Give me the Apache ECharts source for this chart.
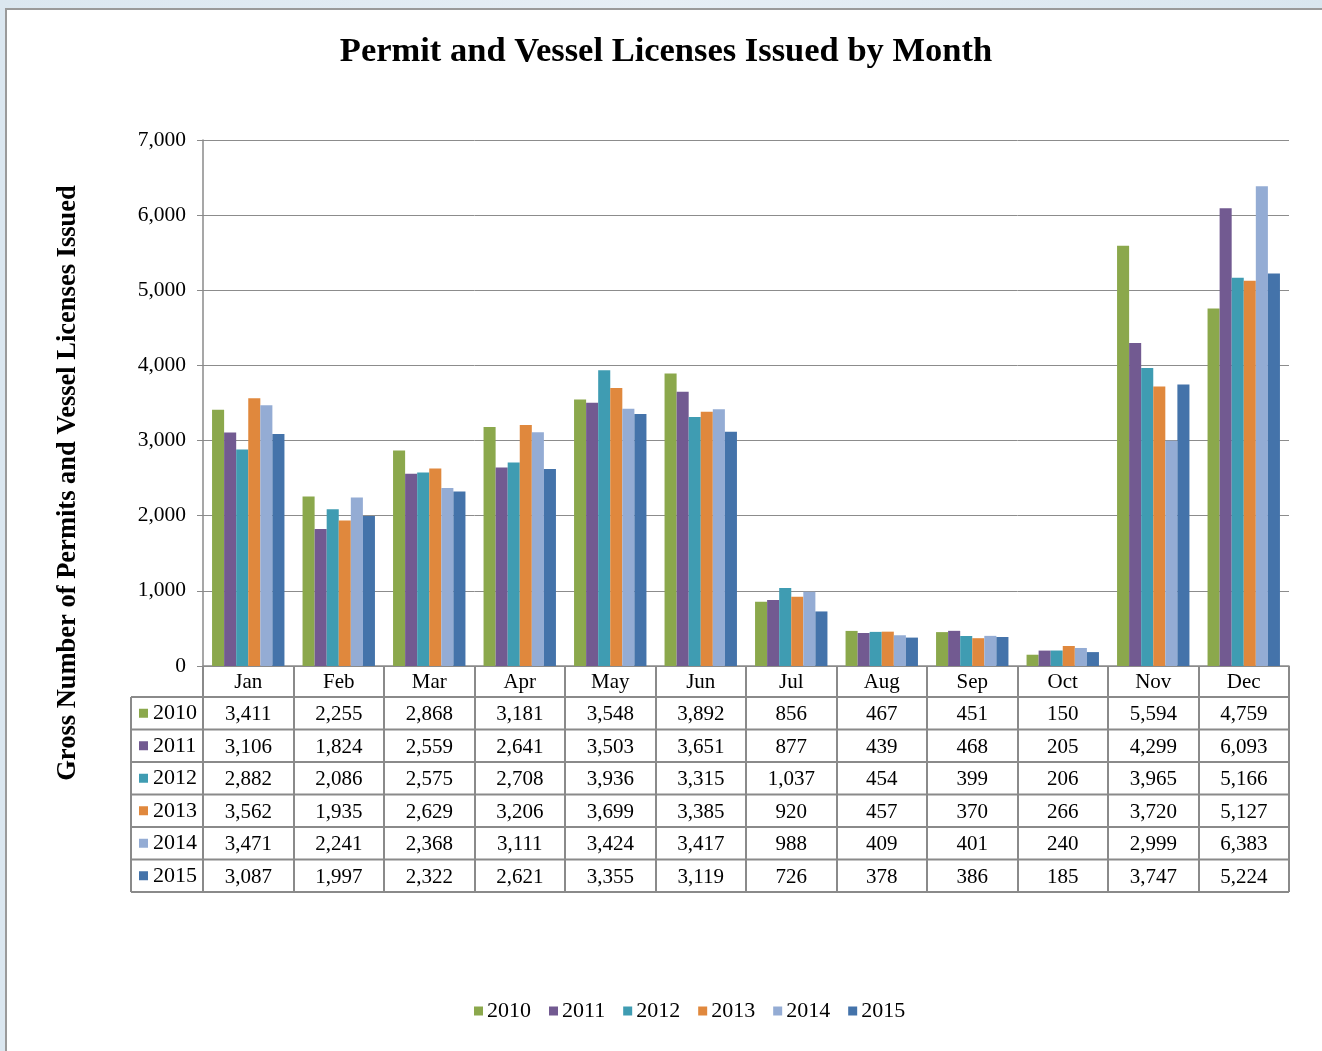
<!DOCTYPE html>
<html><head><meta charset="utf-8">
<script src="https://cdn.jsdelivr.net/npm/echarts@6/dist/echarts.min.js"></script>
<style>
html,body{margin:0;padding:0;width:1322px;height:1051px;overflow:hidden;background:linear-gradient(90deg,#dbe7f0,#e6eef5 50%,#d9e6ef);}
#panel{position:absolute;left:5px;top:8px;width:1330px;height:1060px;background:#fff;border-left:2px solid #9a9a9a;border-top:2px solid #9a9a9a;}
#chart{position:absolute;left:0;top:0;width:1322px;height:1051px;}
</style></head>
<body><div id="panel"></div><div id="chart"></div>
<script>
const months = ['Jan','Feb','Mar','Apr','May','Jun','Jul','Aug','Sep','Oct','Nov','Dec'];
const years = ['2010','2011','2012','2013','2014','2015'];
const v2010 = [3411,2255,2868,3181,3548,3892,856,467,451,150,5594,4759];
const v2011 = [3106,1824,2559,2641,3503,3651,877,439,468,205,4299,6093];
const v2012 = [2882,2086,2575,2708,3936,3315,1037,454,399,206,3965,5166];
const v2013 = [3562,1935,2629,3206,3699,3385,920,457,370,266,3720,5127];
const v2014 = [3471,2241,2368,3111,3424,3417,988,409,401,240,2999,6383];
const v2015 = [3087,1997,2322,2621,3355,3119,726,378,386,185,3747,5224];
const yTicks = [0,1000,2000,3000,4000,5000,6000,7000];
const seriesValues = [v2010,v2011,v2012,v2013,v2014,v2015];
const colors = ['#8BA84C','#725A91','#3F9CB2','#E0883D','#94ACD4','#4473AA'];

const FONT = "'Liberation Serif','Times New Roman',serif";
const fmt = n => n.toLocaleString('en-US');
const GRID = {left:203, right:33, top:140, bottom:385};
const ROW_H = 32.5;
const HEADER_H = 31;
const TABLE_LEFT = 131;

const chart = echarts.init(document.getElementById('chart'), null, {renderer:'canvas'});
const option = {
  backgroundColor:'transparent',
  animation:false,
  title:{text:'Permit and Vessel Licenses Issued by Month', left:661, textAlign:'center', top:30,
    textStyle:{fontFamily:FONT, fontWeight:'bold', fontSize:34.5, color:'#000'}},
  legend:{data:years, left:474, top:1000, padding:0, itemWidth:9, itemHeight:9, itemGap:18, icon:'rect',
    textStyle:{fontFamily:FONT, fontSize:22, color:'#000', padding:[0,0,0,-1]}},
  grid:GRID,
  xAxis:{type:'category', data:months,
    axisLine:{show:true, lineStyle:{color:'#8a8a8a', width:1.5}},
    axisTick:{show:true, length:HEADER_H + ROW_H*6, lineStyle:{color:'#8a8a8a', width:2}},
    axisLabel:{margin:0, fontFamily:FONT, fontSize:21, color:'#000', lineHeight:ROW_H,
      formatter:(m, i) => [m].concat(seriesValues.map(s => fmt(s[i]))).join('\n')}},
  yAxis:{type:'value', min:0, max:7000, interval:1000,
    axisLine:{show:true, lineStyle:{color:'#8a8a8a', width:1.5}},
    axisTick:{show:true, length:6, lineStyle:{color:'#8a8a8a'}},
    splitLine:{lineStyle:{color:'#8c8c8c', width:1}},
    axisLabel:{margin:17, fontFamily:FONT, fontSize:21.5, color:'#000', formatter:v => fmt(v)}},
  series: years.map((y, k) => ({name:y, type:'bar', data:seriesValues[k], barGap:'0%', barCategoryGap:'20%',
    itemStyle:{color:colors[k]}}))
};
chart.setOption(option);

// Table frame and left column, positioned from the grid
const yBase = chart.convertToPixel({yAxisIndex:0}, yTicks[0]);
const xRightGrid = 1322 - GRID.right;
const gfx = [];
const lineStyle = {stroke:'#8a8a8a', lineWidth:2};
for (let r = 0; r <= 6; r++) {
  const y = yBase + HEADER_H + r*ROW_H;
  gfx.push({type:'line', shape:{x1:TABLE_LEFT, y1:y, x2:xRightGrid, y2:y}, style:lineStyle, silent:true});
}
gfx.push({type:'line', shape:{x1:TABLE_LEFT, y1:yBase+HEADER_H, x2:TABLE_LEFT, y2:yBase+HEADER_H+6*ROW_H}, style:lineStyle});
years.forEach((y, k) => {
  const cy = yBase + HEADER_H + k*ROW_H + ROW_H/2;
  gfx.push({type:'rect', shape:{x:139, y:cy-4.5, width:9, height:9}, style:{fill:colors[k]}});
  gfx.push({type:'text', x:153, y:cy, style:{text:y, font:'22px '+FONT, fill:'#000', verticalAlign:'middle', align:'left'}});
});
gfx.push({type:'text', x:68, y:483, rotation:Math.PI/2,
  style:{text:'Gross Number of Permits and Vessel Licenses Issued', font:'bold 26.5px '+FONT, fill:'#000', align:'center', verticalAlign:'middle'}});
chart.setOption({graphic:gfx});
</script></body></html>
